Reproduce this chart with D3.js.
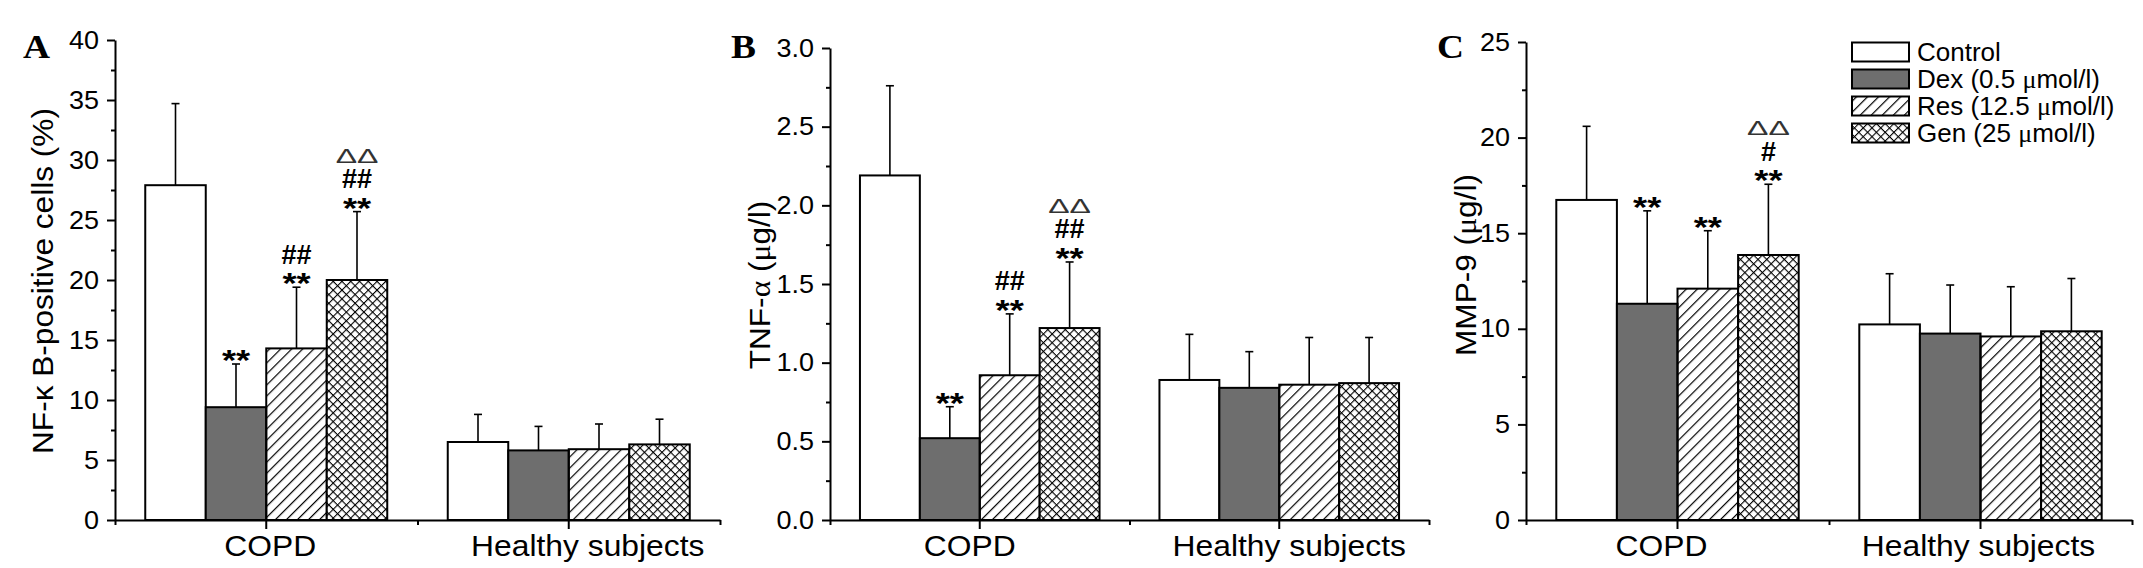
<!DOCTYPE html>
<html>
<head>
<meta charset="utf-8">
<script src="https://cdn.jsdelivr.net/npm/d3@7"></script>
<style>
    body { margin: 0; background: #fff; }
    svg { display: block; font-family: "Liberation Sans", Arial, sans-serif; }
</style>
</head>
<body>
<div id="chart"></div>
<script>
// groups on the x axis and the four treatments
const groups = ["COPD", "Healthy subjects"];
const treatments = ["Control", "Dex (0.5 \u03bcmol/l)", "Res (12.5 \u03bcmol/l)", "Gen (25 \u03bcmol/l)"];

// NF-kB positive cells (%)  [COPD, Healthy] x [Control, Dex, Res, Gen]
const nfkbMeans = [[27.9, 9.4, 14.3, 20.0], [6.5, 5.8, 5.9, 6.3]];
const nfkbSD    = [[6.8, 3.6, 5.1, 5.7], [2.3, 2.0, 2.1, 2.1]];

// TNF-alpha (ug/l)
const tnfMeans = [[2.19, 0.52, 0.92, 1.22], [0.89, 0.84, 0.86, 0.87]];
const tnfSD    = [[0.57, 0.20, 0.39, 0.42], [0.29, 0.23, 0.30, 0.29]];

// MMP-9 (ug/l)
const mmpMeans = [[16.74, 11.31, 12.10, 13.86], [10.23, 9.75, 9.60, 9.87]];
const mmpSD    = [[3.85, 4.86, 3.03, 3.70], [2.65, 2.54, 2.60, 2.76]];

// significance marks over the COPD bars, listed bottom to top
const nfkbMarks = [[], ["**"], ["**", "##"], ["**", "##", "\u0394\u0394"]];
const tnfMarks  = [[], ["**"], ["**", "##"], ["**", "##", "\u0394\u0394"]];
const mmpMarks  = [[], ["**"], ["**"], ["**", "#", "\u0394\u0394"]];

// y axis ticks: [max, major step]
const nfkbTicks = [40, 5];
const tnfTicks  = [3, 0.5];
const mmpTicks  = [25, 5];

const fills = ["#fff", "#6e6e6e", "url(#hatch)", "url(#cross)"];

const svg = d3.select("#chart")
    .append("svg")
    .attr("width", 2143)
    .attr("height", 568);

// hatch patterns
let defs = svg.append("defs");
defs.append("pattern")
    .attr("id", "hatch")
    .attr("patternUnits", "userSpaceOnUse")
    .attr("width", 7.8).attr("height", 7.8)
    .attr("patternTransform", "rotate(45)")
    .append("line")
    .attr("x1", 0).attr("y1", 0).attr("x2", 0).attr("y2", 7.8)
    .attr("stroke", "#000").attr("stroke-width", 2.4);
let cross = defs.append("pattern")
    .attr("id", "cross")
    .attr("patternUnits", "userSpaceOnUse")
    .attr("width", 6.2).attr("height", 6.2)
    .attr("patternTransform", "rotate(45)");
cross.append("rect").attr("width", 6.2).attr("height", 6.2).attr("fill", "#fff");
cross.append("path")
    .attr("d", "M0,0V6.2M0,0H6.2")
    .attr("stroke", "#000").attr("stroke-width", 2.2);

// text stretched along its own direction (the original figure is slightly wide)
function wideText(g, x, y, str, size, sx, rot) {
    return g.append("text")
        .attr("transform", "translate(" + x + "," + y + ") rotate(" + (rot || 0) + ") scale(" + sx + ",1)")
        .style("font-size", size + "px")
        .text(str);
}

class barPanel {
    constructor(svg, cfg) {
        this.svg = svg;
        this.cfg = cfg;
        this.initVis();
    }

    initVis() {
        let vis = this;
        let c = vis.cfg;
        vis.g = vis.svg.append("g");

        vis.x = d3.scaleBand()
            .domain(groups)
            .range([c.left, c.right])
            .paddingInner(0.2)
            .paddingOuter(0.1);

        vis.xSub = d3.scaleBand()
            .domain(treatments)
            .range([0, vis.x.bandwidth()]);

        vis.y = d3.scaleLinear()
            .domain([0, c.ticks[0]])
            .range([c.bottom, c.top]);

        let majors = d3.range(0, c.ticks[0] + c.ticks[1] / 2, c.ticks[1]);
        let minors = majors.slice(0, -1).map(d => d + c.ticks[1] / 2);

        // one row per bar
        let rows = [];
        groups.forEach((grp, gi) => {
            treatments.forEach((t, ti) => {
                rows.push({grp: grp, t: t, ti: ti, mean: c.means[gi][ti], sd: c.sd[gi][ti],
                    marks: gi === 0 ? c.marks[ti] : []});
            });
        });

        let bx = d => vis.x(d.grp) + vis.xSub(d.t);
        let cx = d => bx(d) + vis.xSub.bandwidth() / 2;

        // error bars (upper only)
        vis.g.selectAll(".err")
            .data(rows)
            .enter()
            .append("line")
            .attr("x1", cx).attr("x2", cx)
            .attr("y1", d => vis.y(d.mean))
            .attr("y2", d => vis.y(d.mean + d.sd))
            .attr("stroke", "#000")
            .attr("stroke-width", 1.6);
        vis.g.selectAll(".cap")
            .data(rows)
            .enter()
            .append("line")
            .attr("x1", d => cx(d) - 4).attr("x2", d => cx(d) + 4)
            .attr("y1", d => vis.y(d.mean + d.sd))
            .attr("y2", d => vis.y(d.mean + d.sd))
            .attr("stroke", "#000")
            .attr("stroke-width", 1.6);

        vis.g.selectAll(".bar")
            .data(rows)
            .enter()
            .append("rect")
            .attr("x", bx)
            .attr("y", d => vis.y(d.mean))
            .attr("width", vis.xSub.bandwidth())
            .attr("height", d => vis.y(0) - vis.y(d.mean))
            .attr("fill", d => fills[d.ti])
            .attr("stroke", "#000")
            .attr("stroke-width", 2);

        // significance marks
        rows.forEach(d => {
            d.marks.forEach((m, i) => {
                let yc = vis.y(d.mean + d.sd) - 10 - 23 * i;
                if (m === "**") {
                    wideText(vis.g, cx(d), yc + 16, m, 29, 1.25, 0)
                        .attr("text-anchor", "middle").style("font-weight", "bold");
                } else if (m[0] === "#") {
                    wideText(vis.g, cx(d), yc + 9.5, m, 27, 1.0, 0)
                        .attr("text-anchor", "middle").style("font-weight", "bold");
                } else {
                    wideText(vis.g, cx(d), yc + 7, m, 20, 1.6, 0)
                        .attr("text-anchor", "middle").style("fill", "#333");
                }
            });
        });

        // y axis
        let yAxis = d3.axisLeft(vis.y)
            .tickValues(majors)
            .tickSize(8)
            .tickSizeOuter(0)
            .tickFormat(c.format);
        let ya = vis.g.append("g")
            .attr("transform", "translate(" + c.left + ",0)")
            .call(yAxis);
        ya.selectAll("text")
            .attr("x", -16 / 1.08)
            .attr("transform", "scale(1.08,1)")
            .style("font-size", "25px")
            .style("fill", "#000")
            .style("font-family", "Liberation Sans, Arial, sans-serif");
        vis.g.append("g")
            .attr("transform", "translate(" + c.left + ",0)")
            .call(d3.axisLeft(vis.y).tickValues(minors).tickSize(4).tickSizeOuter(0).tickFormat(""))
            .select(".domain").remove();

        // x axis
        let xa = vis.g.append("g")
            .attr("transform", "translate(0," + c.bottom + ")")
            .call(d3.axisBottom(vis.x).tickSize(9).tickSizeOuter(0));
        xa.selectAll("text")
            .attr("y", 36).attr("dy", null)
            .attr("transform", (d, i) => "translate(" + c.labelShift[i] + ",0) scale(1.06,1)")
            .style("font-size", "30px")
            .style("fill", "#000")
            .style("font-family", "Liberation Sans, Arial, sans-serif");
        let edge = d3.scaleLinear().domain([0, groups.length]).range([c.left, c.right]);
        vis.g.append("g")
            .attr("transform", "translate(0," + c.bottom + ")")
            .call(d3.axisBottom(edge).tickValues(d3.range(0, groups.length + 1)).tickSize(5).tickFormat("").tickSizeOuter(0))
            .select(".domain").remove();

        vis.g.selectAll(".domain, .tick line")
            .attr("stroke", "#000")
            .attr("stroke-width", 2);

        // y axis title
        let lab = vis.g.append("text")
            .attr("transform", "translate(" + c.labelX + "," + c.labelY + ") rotate(-90) scale(1.09,1)")
            .attr("text-anchor", "middle")
            .style("font-size", "29px");
        c.label.forEach(p => {
            let ts = lab.append("tspan").text(p[0]);
            if (p[1]) ts.style("font-family", "Liberation Serif, serif");
        });

        // panel letter
        wideText(vis.g, c.letterX, 58, c.letter, 34, 1.1, 0)
            .style("font-family", "Liberation Serif, Times New Roman, serif")
            .style("font-weight", "bold");
    }
}

new barPanel(svg, {
    left: 115, right: 720, top: 40, bottom: 520,
    means: nfkbMeans, sd: nfkbSD, marks: nfkbMarks, ticks: nfkbTicks,
    format: d3.format("d"), labelShift: [4, 19],
    label: [["NF-\u03ba B-positive cells (%)", false]], labelX: 53, labelY: 281,
    letter: "A", letterX: 23
});
new barPanel(svg, {
    left: 830, right: 1429, top: 48, bottom: 520,
    means: tnfMeans, sd: tnfSD, marks: tnfMarks, ticks: tnfTicks,
    format: d3.format(".1f"), labelShift: [-10, 10],
    label: [["TNF-", false], ["\u03b1", true], [" (", false], ["\u03bc", true], ["g/l)", false]],
    labelX: 770, labelY: 285,
    letter: "B", letterX: 731
});
new barPanel(svg, {
    left: 1526, right: 2132, top: 42, bottom: 520,
    means: mmpMeans, sd: mmpSD, marks: mmpMarks, ticks: mmpTicks,
    format: d3.format("d"), labelShift: [-16, -2],
    label: [["MMP-9 (", false], ["\u03bc", true], ["g/l)", false]],
    labelX: 1476, labelY: 265,
    letter: "C", letterX: 1437
});

// legend (panel C, top right)
let legend = svg.append("g");
treatments.forEach((t, i) => {
    let yc = 52 + 27 * i;
    legend.append("rect")
        .attr("x", 1852).attr("y", yc - 9.5)
        .attr("width", 57).attr("height", 19)
        .attr("fill", fills[i])
        .attr("stroke", "#000")
        .attr("stroke-width", 2);
    let txt = legend.append("text")
        .attr("x", 1917).attr("y", yc + 9)
        .style("font-size", "26px");
    let parts = t.split("\u03bc");
    txt.append("tspan").text(parts[0]);
    if (parts.length > 1) {
        txt.append("tspan").style("font-family", "Liberation Serif, serif").text("\u03bc");
        txt.append("tspan").text(parts[1]);
    }
});
</script>
</body>
</html>
